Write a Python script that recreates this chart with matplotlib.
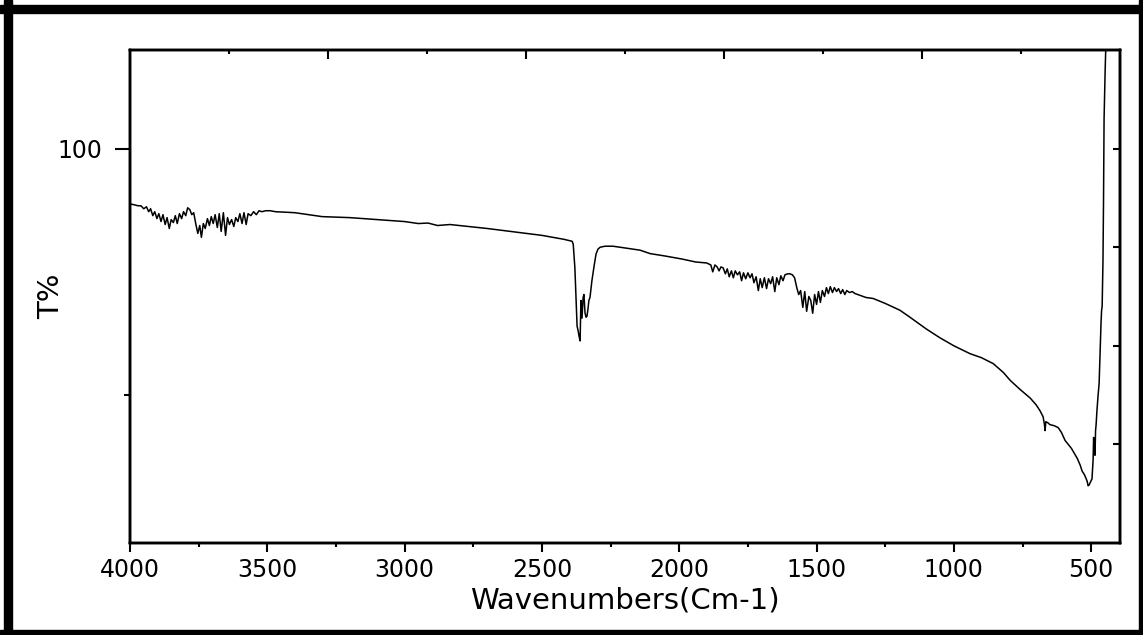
import matplotlib
matplotlib.use("Agg")
import matplotlib.pyplot as plt
from matplotlib.patches import Rectangle

# ---- data ----
wavenumber = [
    4000, 3985, 3970, 3960, 3950, 3940, 3932, 3925, 3917, 3910, 3902, 3895, 3887, 3880,
    3872, 3865, 3857, 3850, 3842, 3835, 3828, 3820, 3812, 3805, 3797, 3790, 3782, 3775,
    3768, 3760, 3753, 3746, 3740, 3733, 3726, 3718, 3711, 3704, 3697, 3690, 3682, 3675,
    3668, 3660, 3652, 3645, 3638, 3630, 3622, 3615, 3607, 3600, 3592, 3585, 3577, 3570,
    3560, 3550, 3540, 3530, 3520, 3505, 3490, 3470,
    3400, 3300, 3200, 3100, 3000, 2950, 2915, 2880, 2835, 2700, 2600, 2500, 2420, 2390,
    2386, 2380, 2376, 2372, 2368, 2365, 2361, 2358, 2354, 2350, 2347, 2343, 2339, 2336,
    2332, 2329, 2325, 2318, 2310, 2303, 2296, 2288, 2270, 2241, 2216, 2143,
    2106, 2050, 1990, 1940, 1900, 1885, 1878, 1870, 1862, 1855, 1848, 1840, 1832, 1825,
    1818, 1810, 1803, 1796, 1788, 1780, 1773, 1766, 1758, 1750, 1742, 1735, 1728, 1720,
    1712, 1705, 1698, 1690, 1682, 1675, 1667, 1660, 1652, 1645, 1637, 1630, 1622, 1615,
    1605, 1597, 1588, 1580, 1572, 1565, 1558, 1550, 1543, 1536, 1528, 1521, 1514, 1507,
    1500, 1493, 1486, 1479, 1471, 1464, 1457, 1450, 1442, 1435, 1427, 1420, 1412, 1405,
    1397, 1390, 1380, 1370, 1360, 1340, 1320, 1294, 1250, 1196, 1160, 1100, 1050, 1000,
    941, 900, 857, 820, 795, 760, 722, 700, 686, 675, 670, 668, 665, 658, 650, 635, 620,
    608, 595, 572, 551, 540, 533, 524, 515, 511, 507, 504, 499, 497, 493, 491, 489, 487,
    486, 484, 482, 479, 475, 471, 468, 466, 464, 462, 460, 457, 455, 453, 449, 446, 440,
]
transmittance = [
    94.4, 94.3, 94.2, 94.2, 93.9, 94.1, 93.6, 93.9, 93.2, 93.6, 92.9, 93.4, 92.6, 93.3,
    92.3, 93.0, 91.9, 92.8, 92.5, 93.2, 92.4, 93.4, 92.9, 93.6, 93.2, 94.0, 93.8, 93.3,
    93.5, 92.3, 91.4, 92.2, 91.0, 92.4, 91.9, 92.9, 92.2, 93.1, 92.4, 93.3, 92.0, 93.4,
    91.6, 93.5, 91.2, 93.0, 92.3, 92.8, 92.1, 93.0, 92.6, 93.4, 92.4, 93.5, 92.3, 93.4,
    93.2, 93.6, 93.3, 93.7, 93.6, 93.7, 93.7, 93.6,
    93.5, 93.1, 93.0, 92.8, 92.6, 92.4, 92.45, 92.2, 92.3, 91.9, 91.55, 91.2, 90.8, 90.6,
    90.3, 87.9, 84.8, 82.0, 81.5, 81.0, 80.5, 84.6, 82.8, 84.9, 85.2, 83.3, 82.9, 83.0,
    83.8, 84.6, 84.9, 86.6, 88.1, 89.3, 89.8, 90.0, 90.1, 90.1, 90.0, 89.7,
    89.35, 89.1, 88.8, 88.5, 88.4, 88.2, 87.5, 88.2, 88.0, 87.6, 88.0, 87.9, 87.3, 87.8,
    87.0, 87.6, 86.9, 87.6, 87.2, 87.5, 86.6, 87.4, 86.8, 87.4, 86.9, 87.3, 86.4, 87.0,
    85.6, 86.8, 85.9, 86.9, 85.8, 86.8, 86.3, 87.0, 85.5, 86.9, 86.2, 87.1, 86.6, 87.2,
    87.3, 87.3, 87.2, 86.9, 85.9, 85.2, 85.6, 83.9, 85.5, 83.5, 85.0, 84.6, 83.3, 85.2,
    84.2, 85.5, 84.4, 85.6, 85.0, 85.9, 85.3, 86.0, 85.4, 85.9, 85.5, 85.8, 85.3, 85.7,
    85.2, 85.6, 85.4, 85.5, 85.3, 85.1, 84.9, 84.8, 84.3, 83.6, 82.9, 81.7, 80.8, 80.0,
    79.2, 78.8, 78.2, 77.3, 76.5, 75.6, 74.7, 74.0, 73.4, 72.8, 72.0, 71.4, 72.3, 72.2,
    72.0, 71.9, 71.7, 71.2, 70.4, 69.6, 68.6, 67.9, 67.3, 66.9, 66.3, 65.8, 65.9, 66.1,
    66.4, 66.5, 68.4, 70.7, 69.0, 70.4, 68.9, 71.4, 72.0, 73.4, 74.9, 76.2, 79.0, 81.0,
    82.4, 83.6, 84.0, 88.6, 94.7, 103.0, 108.0, 111.0, 115.0,
]
x_major = [4000, 3500, 3000, 2500, 2000, 1500, 1000, 500]
x_minor = [3750, 3250, 2750, 2250, 1750, 1250, 750]
y_major = [100]
y_major_labels = ["100"]
y_minor = [75]

W, H = 1143, 635
fig = plt.figure(figsize=(W / 100, H / 100), dpi=100)
fig.patch.set_facecolor("white")

# outer black frame
for (x0, y0, w, h) in [(4, 0, 8, 635), (0, 5, 1143, 8), (1139, 0, 4, 635), (0, 630, 1143, 5)]:
    fig.patches.append(Rectangle((x0 / W, 1 - (y0 + h) / H), w / W, h / H,
                                 transform=fig.transFigure, color="black", zorder=0))

left, right, top, bottom = 130, 1120, 50, 543
ax = fig.add_axes([left / W, 1 - bottom / H, (right - left) / W, (bottom - top) / H])
ax.plot(wavenumber, transmittance, color="black", lw=1.1)
ax.set_xlim(4000, 395)
ax.set_ylim(60, 110)

font = "DejaVu Sans"
ax.set_xticks(x_major)
ax.set_xticklabels([str(v) for v in x_major], fontsize=17, family=font)
ax.set_xticks(x_minor, minor=True)
ax.set_yticks(y_major)
ax.set_yticklabels(y_major_labels, fontsize=17, family=font)
ax.set_yticks(y_minor, minor=True)
ax.tick_params(axis="x", which="major", direction="out", length=6.5, width=1.5, pad=4)
ax.tick_params(axis="x", which="minor", direction="out", length=3, width=1.5)
ax.tick_params(axis="y", which="major", direction="out", length=11, width=1.5, pad=9)
ax.tick_params(axis="y", which="minor", direction="out", length=4.5, width=1.5)
ax.tick_params(top=False, right=False, which="both")

ax.set_xlabel("Wavenumbers(Cm-1)", fontsize=21, family=font, va="center")
ax.xaxis.set_label_coords(0.5, -(601 - bottom) / (bottom - top))
ax.set_ylabel("T%", fontsize=21, family=font, va="center")
ax.yaxis.set_label_coords((51 - left) / (right - left), 0.5)

# right-hand and top tick sets (unlabelled, inward)
axr = ax.twinx()
axr.set_ylim(0, 1)
axr.set_yticks([0.2, 0.4, 0.6, 0.8])
axr.tick_params(axis="y", direction="in", length=5, width=1.5, labelright=False)
axt = ax.twiny()
axt.set_xlim(0, 1)
axt.set_xticks([0.2, 0.4, 0.6, 0.8])
axt.set_xticks([0.1, 0.3, 0.5, 0.7, 0.9], minor=True)
axt.tick_params(axis="x", which="major", direction="in", length=6.5, width=1.5, labeltop=False)
axt.tick_params(axis="x", which="minor", direction="in", length=3, width=1.5)

for a in (ax, axr, axt):
    for s in a.spines.values():
        s.set_linewidth(1.7)

fig.savefig("out.png", dpi=100)
